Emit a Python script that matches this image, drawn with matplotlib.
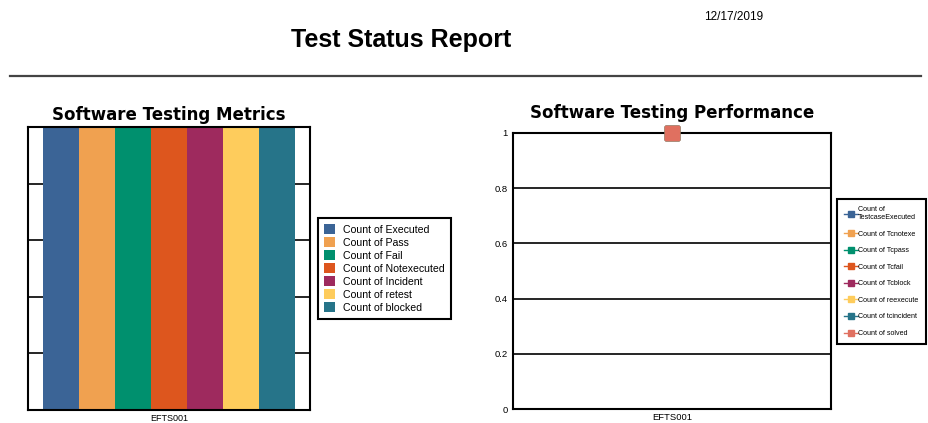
import matplotlib.pyplot as plt
from matplotlib.patches import Patch
from matplotlib.lines import Line2D

# data
test_id = "EFTS001"
report_date = "12/17/2019"

metric_labels = ["Count of Executed", "Count of Pass", "Count of Fail",
                 "Count of Notexecuted", "Count of Incident", "Count of retest",
                 "Count of blocked"]
metric_values = [1, 1, 1, 1, 1, 1, 1]
metric_colors = ["#3B6496", "#F0A150", "#00906E", "#DD561E",
                 "#9E2A5E", "#FECC5C", "#267489"]

perf_labels = ["Count of\nTestcaseExecuted", "Count of Tcnotexe", "Count of Tcpass",
               "Count of Tcfail", "Count of Tcblock", "Count of reexecute",
               "Count of tcincident", "Count of solved"]
perf_values = [1, 1, 1, 1, 1, 1, 1, 1]
perf_colors = ["#3B6496", "#F0A150", "#00906E", "#DD561E",
               "#9E2A5E", "#FECC5C", "#267489", "#E07060"]

W, H = 929, 423
plt.rcParams['font.family'] = ['Liberation Sans', 'DejaVu Sans']
fig = plt.figure(figsize=(W / 100, H / 100), dpi=100)


def box(x0, y0, x1, y1):
    return [x0 / W, 1 - y1 / H, (x1 - x0) / W, (y1 - y0) / H]


# header
fig.text(401 / W, 1 - 40 / H, "Test Status Report", ha='center', va='center',
         fontsize=18, fontweight='bold')
fig.text(763 / W, 1 - 17 / H, report_date, ha='right', va='center', fontsize=8.5)
fig.add_artist(Line2D([10 / W, 921 / W], [1 - 76 / H, 1 - 76 / H],
                      color='#444444', lw=1.6, transform=fig.transFigure))

# left chart: grouped bars
ax1 = fig.add_axes(box(28, 127, 310, 410))
n = len(metric_values)
w = 0.128
for i, (v, c) in enumerate(zip(metric_values, metric_colors)):
    ax1.bar((i - (n - 1) / 2) * w, v, width=w, color=c, zorder=2)
ax1.set_xlim(-0.5, 0.5)
ax1.set_ylim(0, 1)
ax1.set_yticks([0, 0.2, 0.4, 0.6, 0.8, 1.0])
ax1.set_yticklabels([])
ax1.tick_params(axis='y', length=0)
ax1.grid(axis='y', color='black', lw=1.2, zorder=1)
ax1.set_axisbelow(True)
ax1.set_xticks([0])
ax1.set_xticklabels([test_id], fontsize=6.5)
ax1.tick_params(axis='x', length=0, pad=3)
for s in ax1.spines.values():
    s.set_linewidth(1.5)
ax1.set_title("Software Testing Metrics", family='DejaVu Sans',
              fontsize=12, fontweight='bold', pad=5)

h1 = [Patch(facecolor=c) for c in metric_colors]
leg1 = fig.legend(h1, metric_labels, loc='upper left',
                  bbox_to_anchor=(318 / W, 1 - 218 / H), borderaxespad=0,
                  fontsize=7.6, handlelength=1.0, handleheight=1.0,
                  handletextpad=0.75, labelspacing=0.25, borderpad=0.6,
                  fancybox=False, edgecolor='black', framealpha=1)
leg1.get_frame().set_linewidth(1.5)

# right chart: line/marker chart
ax2 = fig.add_axes(box(513, 133, 831, 409))
for v, c in zip(perf_values, perf_colors):
    ax2.plot([0], [v], marker='s', ms=10, color=c, ls='-', clip_on=False, zorder=3)
ax2.set_xlim(-0.5, 0.5)
ax2.set_ylim(0, 1)
ax2.set_yticks([0, 0.2, 0.4, 0.6, 0.8, 1.0])
ax2.set_yticklabels(["0", "0.2", "0.4", "0.6", "0.8", "1"], fontsize=6.8)
ax2.tick_params(axis='y', length=0, pad=4)
ax2.grid(axis='y', color='black', lw=1.2)
ax2.set_xticks([0])
ax2.set_xticklabels([test_id], fontsize=6.8)
ax2.tick_params(axis='x', length=0, pad=3)
for s in ax2.spines.values():
    s.set_linewidth(1.5)
ax2.set_title("Software Testing Performance", family='DejaVu Sans',
              fontsize=12, fontweight='bold', pad=11)

h2 = [Line2D([0], [0], color=c, marker='s', ms=4.5, lw=1) for c in perf_colors]
leg2 = fig.legend(h2, perf_labels, loc='upper left',
                  bbox_to_anchor=(837 / W, 1 - 199 / H), borderaxespad=0,
                  fontsize=5.1, handlelength=1.9, handletextpad=0.1,
                  labelspacing=1.35, borderpad=1.0, fancybox=False,
                  edgecolor='black', framealpha=1)
leg2.get_frame().set_linewidth(1.5)

fig.savefig("out.png", dpi=100)
